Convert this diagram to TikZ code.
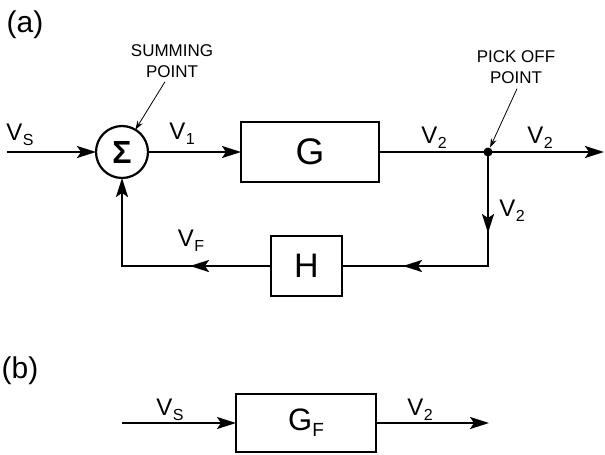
\documentclass[tikz,border=0pt]{standalone}
\usepackage{fontspec}
\setmainfont{Liberation Sans}
\usetikzlibrary{positioning, arrows.meta, decorations.markings}

% signal label V with a lowered index
\newcommand{\sig}[1]{V\kern0.5pt\raisebox{-5pt}{\fontsize{16}{16}\selectfont #1}}

\begin{document}
\begin{tikzpicture}[
    x=1pt, y=-1pt,
    >={Stealth[length=19pt, width=12pt, inset=4pt]},
    sumnode/.style={
        draw,
        circle,
        line width=2.2pt,
        minimum size=52pt,
        inner sep=0pt,
        outer sep=0pt
    },
    block/.style={
        draw,
        rectangle,
        line width=1.8pt,
        inner sep=0pt,
        outer sep=0pt,
        font=\fontsize{37}{37}\selectfont
    },
    ptr/.style={
        ->,
        line width=2pt
    },
    midptr/.style={
        line width=2pt,
        decoration={markings, mark=at position #1 with {\arrow{>}}},
        postaction={decorate}
    },
    siglabel/.style={
        font=\fontsize{24}{24}\selectfont,
        inner sep=0pt
    },
    note/.style={
        font=\fontsize{17}{21}\selectfont,
        align=center,
        inner sep=0pt
    },
    noteptr/.style={
        -{Stealth[length=9pt, width=6pt]},
        line width=0.8pt
    },
    panel/.style={
        font=\fontsize{30}{30}\selectfont,
        inner sep=0pt
    }
]
    \useasboundingbox (0,0) rectangle (605,455);

    % Panel labels
    \node[panel] (pa) at (25,25) {(a)};
    \node[panel] (pb) at (20,371) {(b)};

    % (a) Forward path
    \coordinate (vsin) at (7,152);
    \node[sumnode] (sum) at (122,152) {\fontsize{32}{32}\selectfont\textbf{Σ}};
    \node[block, minimum width=138pt, minimum height=60pt, right=93pt of sum] (G) {G};
    \coordinate[right=109pt of G] (pick);
    \coordinate[right=116pt of pick] (out);
    \fill (pick) circle (4.5pt);

    % (a) Feedback path
    \node[block, minimum width=71pt, minimum height=60pt, font=\fontsize{34}{34}\selectfont] (H) at (306.5,266) {H};
    \coordinate (drop) at (pick |- H);
    \coordinate (back) at (sum |- H);

    % Connectors
    \draw[ptr] (vsin) -- (sum.west);
    \draw[ptr] (sum.east) -- (G.west);
    \draw[line width=2pt] (G.east) -- (pick);
    \draw[ptr] (pick) -- (out);
    \draw[midptr=81pt, line join=miter] (pick) -- (drop) -- (H.east);
    \path[midptr=199pt] (pick) -- (drop) -- (H.east);
    \draw[ptr, midptr=81pt, line join=miter] (H.west) -- (back) -- (sum.south);

    % Signal labels
    \node[siglabel] (lvs) at (20,135) {\sig{S}};
    \node[siglabel] (lv1) at (182,134) {\sig{1}};
    \node[siglabel] (lv2a) at (434,138) {\sig{2}};
    \node[siglabel] (lv2b) at (540,138) {\sig{2}};
    \node[siglabel] (lv2c) at (512,211) {\sig{2}};
    \node[siglabel] (lvf) at (191,241) {\sig{F}};

    % Annotations
    \node[note] (sumtxt) at (172,61) {SUMMING\\POINT};
    \draw[noteptr] ([shift={(-7,4)}]sumtxt.south) -- (sum.59);
    \node[note] (picktxt) at (516,67) {PICK OFF\\POINT};
    \draw[noteptr, shorten >=5pt] ([shift={(1,5)}]picktxt.south) -- (pick);

    % (b) Equivalent block
    \coordinate (bin) at (122,423);
    \node[block, minimum width=140pt, minimum height=58pt, font=\fontsize{31}{31}\selectfont] (GF) at (306,423) {G\raisebox{-6pt}{\fontsize{19}{19}\selectfont F}};
    \coordinate (bout) at (489,423);
    \draw[ptr] (bin) -- (GF.west);
    \draw[ptr] (GF.east) -- (bout);
    \node[siglabel] (lvsb) at (170,410) {\sig{S}};
    \node[siglabel] (lv2d) at (420,410) {\sig{2}};

\end{tikzpicture}
\end{document}
